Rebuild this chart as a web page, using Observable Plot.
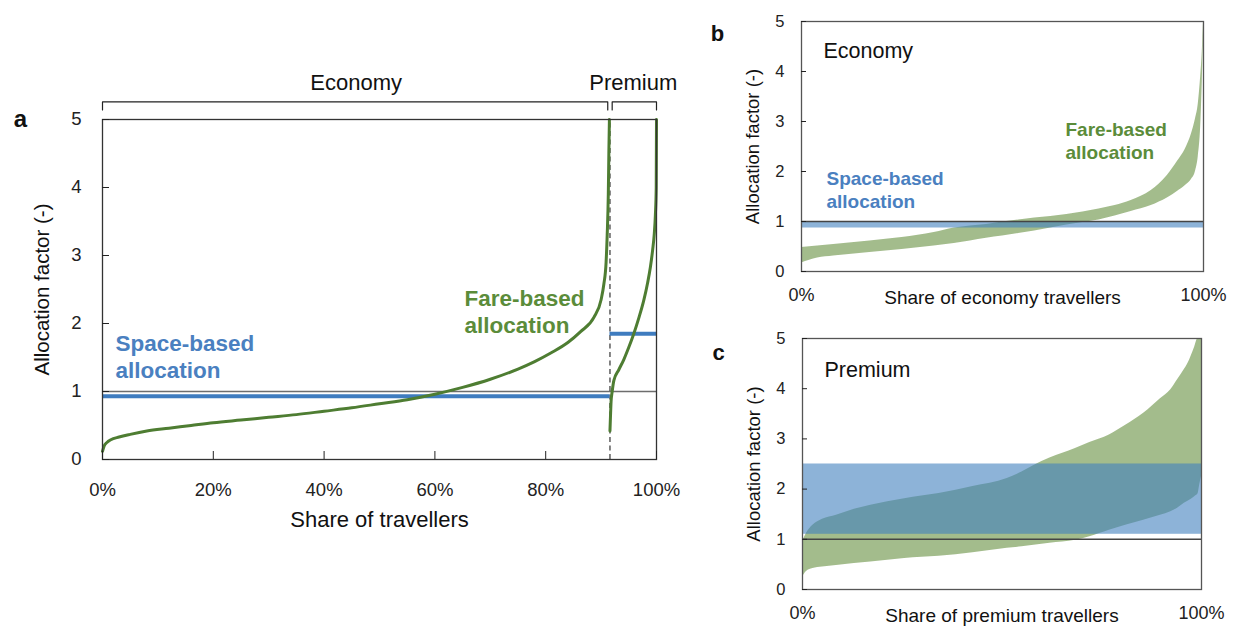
<!DOCTYPE html>
<html>
<head>
<meta charset="utf-8">
<script src="https://cdn.jsdelivr.net/npm/d3@7"></script>
<script src="https://cdn.jsdelivr.net/npm/@observablehq/plot@0.6"></script>
<style>
  body { margin: 0; background: #fff; }
  #fig { position: relative; width: 1234px; height: 626px; overflow: hidden; background: #fff; }
  #fig svg { position: absolute; overflow: visible; max-width: none; }
</style>
</head>
<body>
<div id="fig"></div>
<script>
// ---------- data ----------
// share of all travellers that fly economy (boundary between cabin classes)
const classSplit = 0.916;

// panel a: fare-based allocation factor, travellers sorted by factor
const econShare  = [0, 0.003, 0.008, 0.015, 0.03, 0.05, 0.08, 0.12, 0.16, 0.20, 0.25, 0.30, 0.35, 0.40, 0.45, 0.50, 0.55, 0.60, 0.65, 0.70, 0.75, 0.78, 0.81, 0.84, 0.863, 0.887, 0.900, 0.905, 0.909, 0.911, 0.913, 0.914, 0.915];
const econFactor = [0.12, 0.20, 0.25, 0.29, 0.33, 0.37, 0.42, 0.46, 0.50, 0.54, 0.58, 0.62, 0.66, 0.71, 0.76, 0.82, 0.88, 0.96, 1.06, 1.18, 1.33, 1.44, 1.57, 1.72, 1.88, 2.09, 2.35, 2.58, 2.9, 3.3, 3.9, 4.5, 5.0];
const premShare  = [0.916, 0.917, 0.918, 0.920, 0.923, 0.932, 0.941, 0.950, 0.959, 0.968, 0.977, 0.984, 0.989, 0.993, 0.996, 0.998, 0.9995, 1.0];
const premFactor = [0.42, 0.65, 0.85, 1.0, 1.16, 1.32, 1.47, 1.65, 1.85, 2.08, 2.34, 2.6, 2.83, 3.08, 3.32, 3.6, 4.0, 5.0];
// space-based allocation factor per cabin class
const spaceEconomy = 0.93;
const spacePremium = 1.85;

// panel b: economy travellers, range of fare-based factors
const bShare = [0, 0.04, 0.08, 0.17, 0.25, 0.33, 0.38, 0.42, 0.46, 0.50, 0.54, 0.58, 0.62, 0.66, 0.70, 0.74, 0.78, 0.82, 0.87, 0.91, 0.935, 0.955, 0.97, 0.98, 0.987, 0.993, 0.997, 1.0];
const bLow   = [0.17, 0.27, 0.31, 0.38, 0.44, 0.51, 0.56, 0.61, 0.665, 0.71, 0.76, 0.81, 0.87, 0.93, 0.98, 1.03, 1.11, 1.20, 1.32, 1.47, 1.60, 1.72, 1.84, 2.0, 2.3, 2.9, 3.8, 4.7];
const bHigh  = [0.48, 0.51, 0.54, 0.61, 0.68, 0.78, 0.87, 0.91, 0.94, 0.99, 1.03, 1.07, 1.10, 1.14, 1.19, 1.25, 1.32, 1.42, 1.62, 1.92, 2.2, 2.45, 2.75, 3.05, 3.35, 3.9, 4.4, 5.0];
const bSpaceRange = [0.87, 1.0];

// panel c: premium travellers, range of fare-based factors
const cShare = [0, 0.01, 0.026, 0.05, 0.085, 0.13, 0.171, 0.256, 0.342, 0.427, 0.513, 0.55, 0.58, 0.62, 0.684, 0.72, 0.769, 0.81, 0.855, 0.897, 0.923, 0.94, 0.957, 0.966, 0.983, 0.991, 0.996, 1.0];
const cLow   = [0.25, 0.36, 0.42, 0.45, 0.48, 0.52, 0.55, 0.62, 0.66, 0.73, 0.82, 0.85, 0.88, 0.92, 0.98, 1.05, 1.18, 1.28, 1.38, 1.48, 1.55, 1.62, 1.72, 1.76, 1.85, 1.90, 2.10, 2.25];
const cHigh  = [0.95, 1.12, 1.28, 1.40, 1.48, 1.60, 1.68, 1.81, 1.91, 2.05, 2.21, 2.34, 2.47, 2.62, 2.81, 2.93, 3.08, 3.27, 3.51, 3.80, 3.98, 4.18, 4.38, 4.50, 4.83, 5.0, 5.0, 5.0];
const cSpaceRange = [1.1, 2.5];

// axis ticks
const factorTicks = [0, 1, 2, 3, 4, 5];
const shareTicksA = [0, 0.2, 0.4, 0.6, 0.8, 1];
const shareTicksBC = [0, 1];

// ---------- styling ----------
const FONT = "'Liberation Sans', Arial, Helvetica, sans-serif";
const GREEN_LINE = "#4e7d32";
const BLUE_LINE = "#3f7cbf";
const GREEN_TEXT = "#5b8c3a";
const BLUE_TEXT = "#4a80c0";
const GREEN_FILL = "#668f3f";
const BLUE_FILL = "#4180be";
const pct = d => Math.round(d * 100) + "%";

const fig = document.getElementById("fig");
function place(svg, left, topPx) {
  svg.style.left = left + "px";
  svg.style.top = topPx + "px";
  fig.appendChild(svg);
}

// ---------- panel a ----------
const econ = econShare.map((x, i) => ({x, y: econFactor[i]}));
const prem = premShare.map((x, i) => ({x, y: premFactor[i]}));
const spaceLines = [
  {y: spaceEconomy, x1: 0, x2: classSplit},
  {y: spacePremium, x1: classSplit, x2: 1}
];
// brackets over each cabin class
const bracketGap = 0.004, bracketTop = 5.26, bracketFoot = 5.14;
const brackets = [
  ["Economy", 0, classSplit - bracketGap],
  ["Premium", classSplit + bracketGap, 1]
].flatMap(([g, a, b]) => [
  {g, x: a, y: bracketFoot}, {g, x: a, y: bracketTop}, {g, x: b, y: bracketTop}, {g, x: b, y: bracketFoot}
]);
const classLabels = [
  {x: classSplit / 2, t: "Economy"},
  {x: (classSplit + 1) / 2, t: "Premium"}
];

const chartA = Plot.plot({
  width: 700, height: 540,
  marginLeft: 102, marginRight: 44, marginTop: 119, marginBottom: 81,
  x: {domain: [0, 1], label: null},
  y: {domain: [0, 5], label: null},
  style: {fontFamily: FONT, fontSize: "18.5px", color: "#222", background: "transparent", overflow: "visible"},
  marks: [
    Plot.ruleY([1], {stroke: "#6d6d6d", strokeWidth: 1.6}),
    Plot.ruleX([classSplit], {y1: 0, y2: 5, stroke: "#444", strokeWidth: 1.3, strokeDasharray: "5,3.5"}),
    Plot.ruleY(spaceLines, {y: "y", x1: "x1", x2: "x2", stroke: BLUE_LINE, strokeWidth: 4}),
    Plot.line(econ, {x: "x", y: "y", stroke: GREEN_LINE, strokeWidth: 3, curve: "monotone-x"}),
    Plot.line(prem, {x: "x", y: "y", stroke: GREEN_LINE, strokeWidth: 3, curve: "monotone-x"}),
    Plot.frame({stroke: "#333", strokeWidth: 1.3}),
    Plot.axisY({ticks: factorTicks, tickSize: -7, tickPadding: 28, tickFormat: d => d, label: null}),
    Plot.axisX({ticks: shareTicksA, tickSize: -8, tickPadding: 31, tickFormat: pct, label: null}),
    Plot.line(brackets, {x: "x", y: "y", z: "g", stroke: "#222", strokeWidth: 1.2}),
    Plot.text(classLabels, {x: "x", text: "t", frameAnchor: "top", lineAnchor: "middle", dy: -37, fontSize: 22, fill: "#111"}),
    Plot.text(["a"], {frameAnchor: "top-left", textAnchor: "middle", lineAnchor: "middle", dx: -82, dy: 0, fontSize: 24, fontWeight: "bold", fill: "#111"}),
    Plot.text(["Allocation factor (-)"], {frameAnchor: "left", textAnchor: "middle", lineAnchor: "middle", dx: -60, rotate: -90, fontSize: 20.5, fill: "#111"}),
    Plot.text(["Share of travellers"], {frameAnchor: "bottom", lineAnchor: "middle", dy: 60, fontSize: 22, fill: "#111"}),
    Plot.text(["Space-based\nallocation"], {frameAnchor: "left", dx: 13, dy: 66, textAnchor: "start", lineHeight: 1.2, fontSize: 22.5, fontWeight: "bold", fill: BLUE_TEXT}),
    Plot.text(["Fare-based\nallocation"], {frameAnchor: "left", dx: 362, dy: 21, textAnchor: "start", lineHeight: 1.2, fontSize: 22.5, fontWeight: "bold", fill: GREEN_TEXT})
  ]
});
place(chartA, 0, 0);

// ---------- panels b and c ----------
function rangePanel({share, low, high, space, letter, title, titleDy, xLabel, spaceLabel, fareLabel, size, margins}) {
  const band = share.map((x, i) => ({x, lo: low[i], hi: high[i]}));
  const marks = [
    Plot.areaY(band, {x: "x", y1: "lo", y2: "hi", fill: GREEN_FILL, fillOpacity: 0.6, curve: "monotone-x"}),
    Plot.rect([{x1: 0, x2: 1, y1: space[0], y2: space[1]}], {x1: "x1", x2: "x2", y1: "y1", y2: "y2", fill: BLUE_FILL, fillOpacity: 0.6}),
    Plot.ruleY([1], {stroke: "#444", strokeWidth: 1.5}),
    Plot.frame({stroke: "#555", strokeWidth: 1.3}),
    Plot.axisY({ticks: factorTicks, tickSize: -5, tickPadding: 22, tickFormat: d => d, fontSize: 16.5, label: null}),
    Plot.axisX({ticks: shareTicksBC, tickSize: 0, tickPadding: 17, tickFormat: pct, fontSize: 18, label: null}),
    Plot.text([letter], {frameAnchor: "top-left", textAnchor: "middle", lineAnchor: "middle", dx: -84, dy: titleDy - 18, fontSize: 22, fontWeight: "bold", fill: "#111"}),
    Plot.text([title], {frameAnchor: "top-left", textAnchor: "start", lineAnchor: "middle", dx: 22, dy: titleDy, fontSize: 21.5, fill: "#111"}),
    Plot.text(["Allocation factor (-)"], {frameAnchor: "left", textAnchor: "middle", lineAnchor: "middle", dx: -48, rotate: -90, fontSize: 18.5, fill: "#111"}),
    Plot.text([xLabel], {frameAnchor: "bottom", lineAnchor: "middle", dy: 26, fontSize: 19, fill: "#111"})
  ];
  if (spaceLabel) marks.push(Plot.text([spaceLabel.t], {frameAnchor: "left", dx: spaceLabel.dx, dy: spaceLabel.dy, textAnchor: "start", lineHeight: 1.2, fontSize: 19, fontWeight: "bold", fill: BLUE_TEXT}));
  if (fareLabel) marks.push(Plot.text([fareLabel.t], {frameAnchor: "left", dx: fareLabel.dx, dy: fareLabel.dy, textAnchor: "start", lineHeight: 1.2, fontSize: 19, fontWeight: "bold", fill: GREEN_TEXT}));
  return Plot.plot({
    width: size[0], height: size[1],
    marginLeft: margins[0], marginRight: margins[1], marginTop: margins[2], marginBottom: margins[3],
    x: {domain: [0, 1], label: null},
    y: {domain: [0, 5], label: null},
    style: {fontFamily: FONT, fontSize: "16.5px", color: "#222", background: "transparent", overflow: "visible"},
    marks
  });
}

const chartB = rangePanel({
  share: bShare, low: bLow, high: bHigh, space: bSpaceRange,
  letter: "b", title: "Economy", titleDy: 30, xLabel: "Share of economy travellers",
  spaceLabel: {t: "Space-based\nallocation", dx: 25, dy: 43},
  fareLabel: {t: "Fare-based\nallocation", dx: 264, dy: -6},
  size: [534, 310], margins: [101, 31, 21, 39]
});
place(chartB, 700, 0);

const chartC = rangePanel({
  share: cShare, low: cLow, high: cHigh, space: cSpaceRange,
  letter: "c", title: "Premium", titleDy: 32, xLabel: "Share of premium travellers",
  size: [534, 316], margins: [102, 33, 28, 37]
});
place(chartC, 700, 310);
</script>
</body>
</html>
